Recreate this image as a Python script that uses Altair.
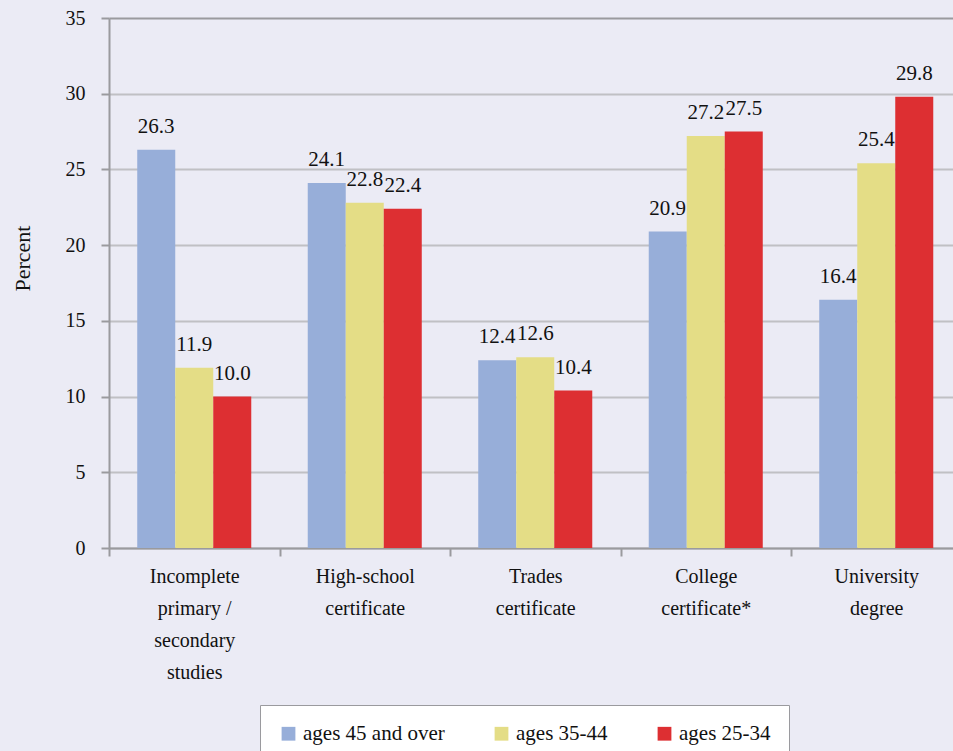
import altair as alt
import pandas as pd

# Education levels (lines split on "|") and age groups
categories = [
    "Incomplete|primary /|secondary|studies",
    "High-school|certificate",
    "Trades|certificate",
    "College|certificate*",
    "University|degree",
]
groups = ["ages 45 and over", "ages 35-44", "ages 25-34"]
colors = ["#97aed9", "#e4dd86", "#dd2f32"]

# Percent by age group, in category order
ages_45_over = [26.3, 24.1, 12.4, 20.9, 16.4]
ages_35_44 = [11.9, 22.8, 12.6, 27.2, 25.4]
ages_25_34 = [10.0, 22.4, 10.4, 27.5, 29.8]

series = [ages_45_over, ages_35_44, ages_25_34]
rows = []
for g, vals in zip(groups, series):
    for c, v in zip(categories, vals):
        rows.append({"category": c, "group": g, "value": v})
df = pd.DataFrame(rows)

FONT = "Liberation Serif"
GRID = "#c0c0c4"
AXIS = "#9a9a9e"

x_enc = alt.X(
    "category:N",
    sort=categories,
    scale=alt.Scale(domain=categories, range=[0, 852.5],
                    paddingInner=0, paddingOuter=0),
    axis=alt.Axis(
        title=None,
        labelExpr="split(datum.label, '|')",
        labelAngle=0,
        labelFontSize=20,
        labelLineHeight=32,
        labelPadding=10,
        labelColor="#111111",
        labelFont=FONT,
        tickBand="extent",
        tickSize=8,
        tickWidth=2,
        tickColor=AXIS,
        domainColor=AXIS,
        domainWidth=2,
        grid=False,
    ),
)
xoff = alt.XOffset("group:N", sort=groups,
                   scale=alt.Scale(domain=groups, paddingInner=0, paddingOuter=0.743))
y_enc = alt.Y(
    "value:Q",
    scale=alt.Scale(domain=[0, 35], nice=False),
    axis=alt.Axis(
        title="Percent",
        titleFont=FONT,
        titleFontSize=22,
        titleFontWeight="normal",
        titleColor="#111111",
        titleX=-87,
        titleY=240,
        titleAlign="center",
        titleBaseline="middle",
        values=[0, 5, 10, 15, 20, 25, 30, 35],
        labelFontSize=20,
        labelFont=FONT,
        labelColor="#111111",
        labelPadding=16,
        tickSize=8,
        tickWidth=2,
        tickColor=AXIS,
        domainColor=AXIS,
        domainWidth=2,
        grid=True,
        gridColor={"condition": {"test": "datum.value === 35", "value": AXIS},
                   "value": GRID},
        gridWidth=2,
    ),
)

bars = alt.Chart(df).mark_bar().encode(
    x=x_enc,
    xOffset=xoff,
    y=y_enc,
    color=alt.Color(
        "group:N",
        sort=groups,
        scale=alt.Scale(domain=groups, range=colors),
        legend=alt.Legend(
            title=None,
            orient="none",
            direction="horizontal",
            legendX=151,
            legendY=687,
            fillColor="white",
            strokeColor=AXIS,
            padding=18,
            symbolType="square",
            symbolSize=190,
            symbolStrokeWidth=0,
            labelFont=FONT,
            labelFontSize=21,
            labelColor="#111111",
            labelOffset=4,
            columnPadding=46,
        ),
    ),
)

labels = alt.Chart(df).mark_text(
    baseline="bottom", dy=-13, fontSize=21, font=FONT, color="#111111"
).encode(
    x=alt.X("category:N", sort=categories),
    xOffset=alt.XOffset("group:N", sort=groups),
    y=alt.Y("value:Q"),
    text=alt.Text("value:Q", format=".1f"),
)

chart = (
    alt.layer(bars, labels)
    .properties(
        width=844,
        height=530,
        background="#ebebf5",
        autosize=alt.AutoSizeParams(type="none"),
        padding={"left": 109, "top": 18, "right": 0, "bottom": 203},
    )
    .configure_view(stroke=None)
    .configure_legend(padding=18, strokeWidth=2)
    .configure(font=FONT)
)

chart.save("out.html", embed_options={"renderer": "svg", "actions": False})
